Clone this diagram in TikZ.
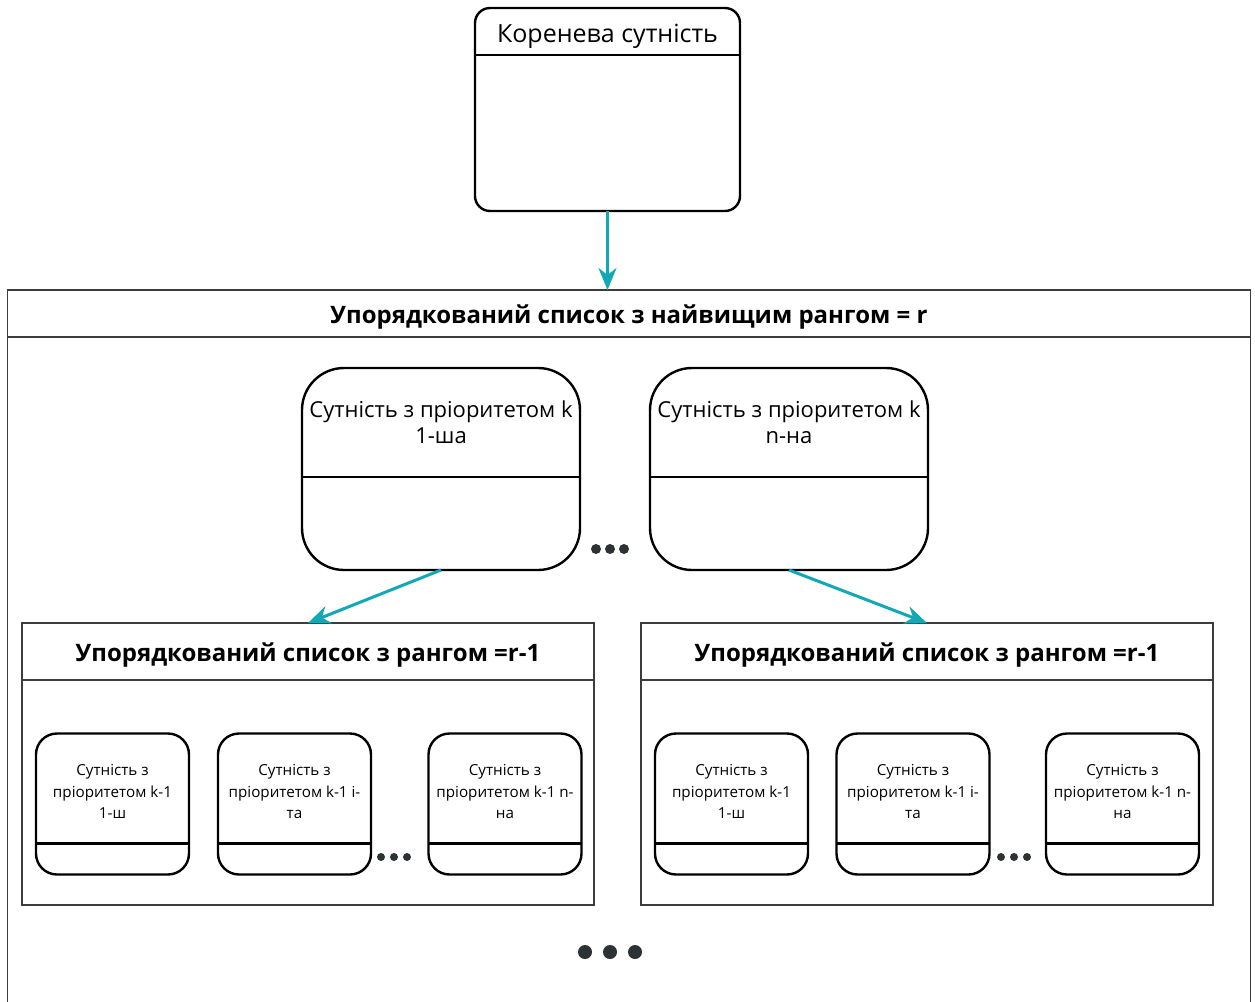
\documentclass[tikz,border=0pt]{standalone}
\usepackage{fontspec}
\setmainfont{Open Sans}
\usepackage{tikz}
\usetikzlibrary{arrows.meta, positioning, calc}
\definecolor{linkteal}{RGB}{18,168,182}
\definecolor{framegray}{RGB}{60,60,60}
\definecolor{dotgray}{RGB}{45,50,52}
\tikzset{
  rootbox/.style = {
    rectangle, rounded corners=15pt, draw=black, line width=2.4pt,
    fill=white, minimum width=265pt, minimum height=203pt,
    inner sep=0pt, outer sep=0pt
  },
  bigentity/.style = {
    rectangle, rounded corners=42pt, draw=black, line width=2.4pt,
    fill=white, minimum width=278pt, minimum height=202pt,
    inner sep=0pt, outer sep=0pt
  },
  smallentity/.style = {
    rectangle, rounded corners=21pt, draw=black, line width=2.4pt,
    fill=white, minimum width=153pt, minimum height=141pt,
    inner sep=0pt, outer sep=0pt
  },
  listbox/.style = {
    rectangle, draw=framegray, line width=1.6pt,
    minimum width=572pt, minimum height=282pt,
    inner sep=0pt, outer sep=0pt
  },
  divider/.style = {draw=black, line width=2.4pt},
  listdivider/.style = {draw=framegray, line width=1.6pt},
  roottitle/.style = {font=\fontsize{25}{30}\selectfont, inner sep=0pt},
  listtitle/.style = {font=\fontsize{24}{28}\selectfont\bfseries, inner sep=0pt},
  bigtext/.style = {font=\fontsize{22}{26}\selectfont, align=center, inner sep=0pt},
  smalltext/.style = {font=\fontsize{15.2}{21.5}\selectfont, align=center, inner sep=0pt},
  myarrow/.style = {-{Stealth[length=22pt, width=18pt, inset=7pt]}, line width=3pt, draw=linkteal}
}

\begin{document}
\begin{tikzpicture}[x=1pt, y=-1pt]
  \useasboundingbox (0,0) rectangle (1255,1001);

  % Root entity
  \node[rootbox] (ROOT) at (607.5,109.5) {};
  \coordinate (ROOTDIV) at ($(ROOT.north)+(0,47)$);
  \draw[divider] (ROOT.west |- ROOTDIV) -- (ROOT.east |- ROOTDIV);
  \node[roottitle] (ROOTTXT) at ($(ROOT.north)!0.5!(ROOTDIV)+(0,5)$) {Коренева сутність};

  % Top ordered list
  \node[listbox, minimum width=1243pt, minimum height=730pt] (LIST) at (629,655) {};
  \coordinate (LISTDIV) at ($(LIST.north)+(0,47)$);
  \draw[listdivider] (LIST.west |- LISTDIV) -- (LIST.east |- LISTDIV);
  \node[listtitle] (LISTTXT) at ($(LIST.north)!0.5!(LISTDIV)+(0,4)$)
    {Упорядкований список з найвищим рангом = r};

  % Entities with priority k
  \node[bigentity] (EK1) at (441,469) {};
  \node[bigentity] (EKN) at (789,469) {};
  \coordinate (EK1DIV) at ($(EK1.north)+(0,109)$);
  \coordinate (EKNDIV) at ($(EKN.north)+(0,109)$);
  \draw[divider] (EK1.west |- EK1DIV) -- (EK1.east |- EK1DIV);
  \draw[divider] (EKN.west |- EKNDIV) -- (EKN.east |- EKNDIV);
  \node[bigtext] (EK1TXT) at ($(EK1.north)!0.5!(EK1DIV)$) {Сутність з пріоритетом k\\1-ша};
  \node[bigtext] (EKNTXT) at ($(EKN.north)!0.5!(EKNDIV)$) {Сутність з пріоритетом k\\n-на};
  \fill[dotgray] (596,549) circle (5) (610,549) circle (5) (624,549) circle (5);

  % Ordered lists with rank r-1
  \node[listbox] (SUBL) at (308,764) {};
  \node[listbox] (SUBR) at (927,764) {};
  \coordinate (SUBLDIV) at ($(SUBL.north)+(0,57)$);
  \coordinate (SUBRDIV) at ($(SUBR.north)+(0,57)$);
  \draw[listdivider] (SUBL.west |- SUBLDIV) -- (SUBL.east |- SUBLDIV);
  \draw[listdivider] (SUBR.west |- SUBRDIV) -- (SUBR.east |- SUBRDIV);
  \node[listtitle] (SUBLTXT) at ($(SUBL.north)!0.5!(SUBLDIV)+(0,4)$) {Упорядкований список з рангом =r-1};
  \node[listtitle] (SUBRTXT) at ($(SUBR.north)!0.5!(SUBRDIV)+(0,4)$) {Упорядкований список з рангом =r-1};

  % Entities with priority k-1, left list
  \node[smallentity] (L1) at (112.5,804) {};
  \node[smallentity] (L2) at (294.5,804) {};
  \node[smallentity] (L3) at (505,804) {};
  \draw[divider] ($(L1.north west)+(0,110)$) -- ($(L1.north east)+(0,110)$);
  \draw[divider] ($(L2.north west)+(0,110)$) -- ($(L2.north east)+(0,110)$);
  \draw[divider] ($(L3.north west)+(0,110)$) -- ($(L3.north east)+(0,110)$);
  \node[smalltext] (L1TXT) at ($(L1.north)+(0,58)$) {Сутність з\\пріоритетом k-1\\1-ш};
  \node[smalltext] (L2TXT) at ($(L2.north)+(0,58)$) {Сутність з\\пріоритетом k-1 і-\\та};
  \node[smalltext] (L3TXT) at ($(L3.north)+(0,58)$) {Сутність з\\пріоритетом k-1 n-\\на};
  \fill[dotgray] (381,857) circle (4) (394,857) circle (4) (407,857) circle (4);

  % Entities with priority k-1, right list
  \node[smallentity] (R1) at (731.5,804) {};
  \node[smallentity] (R2) at (913,804) {};
  \node[smallentity] (R3) at (1122.5,804) {};
  \draw[divider] ($(R1.north west)+(0,110)$) -- ($(R1.north east)+(0,110)$);
  \draw[divider] ($(R2.north west)+(0,110)$) -- ($(R2.north east)+(0,110)$);
  \draw[divider] ($(R3.north west)+(0,110)$) -- ($(R3.north east)+(0,110)$);
  \node[smalltext] (R1TXT) at ($(R1.north)+(0,58)$) {Сутність з\\пріоритетом k-1\\1-ш};
  \node[smalltext] (R2TXT) at ($(R2.north)+(0,58)$) {Сутність з\\пріоритетом k-1 і-\\та};
  \node[smalltext] (R3TXT) at ($(R3.north)+(0,58)$) {Сутність з\\пріоритетом k-1 n-\\на};
  \fill[dotgray] (1001,857) circle (4) (1014,857) circle (4) (1027,857) circle (4);

  % More lists below
  \fill[dotgray] (585,952) circle (7) (610,952) circle (7) (635,952) circle (7);

  % Links
  \draw[myarrow] (ROOT.south) -- (ROOT.south |- LIST.north);
  \draw[myarrow] (EK1.south) -- (SUBL.north);
  \draw[myarrow] (EKN.south) -- (SUBR.north);
\end{tikzpicture}
\end{document}
